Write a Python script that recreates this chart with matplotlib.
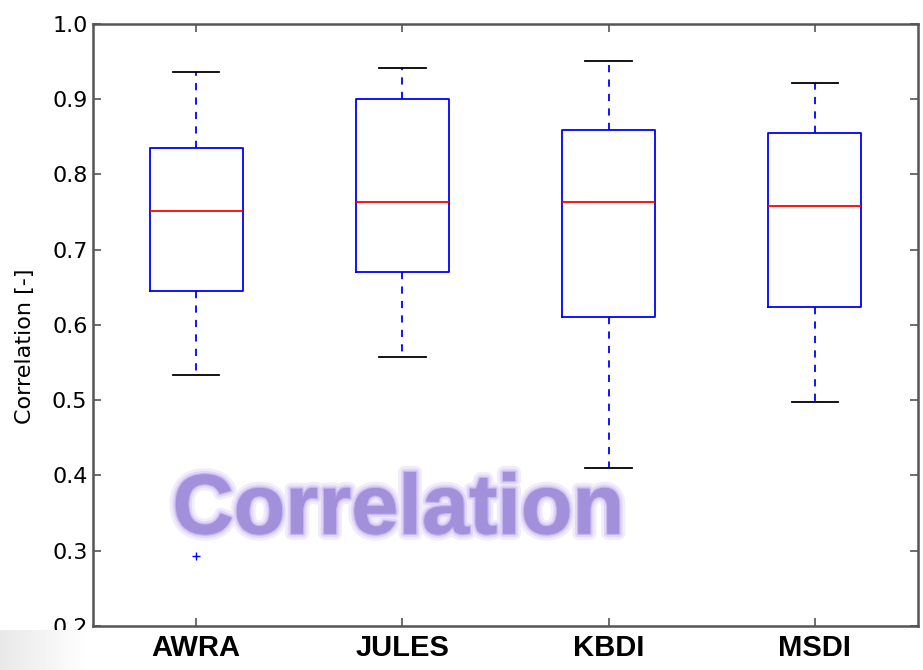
import numpy as np
import matplotlib
matplotlib.use("Agg")
import matplotlib.pyplot as plt
import matplotlib.patheffects as pe

models = ["AWRA", "JULES", "KBDI", "MSDI"]
whislo = [0.534, 0.557, 0.410, 0.498]
q1 = [0.645, 0.670, 0.611, 0.624]
med = [0.751, 0.763, 0.763, 0.758]
q3 = [0.835, 0.900, 0.859, 0.855]
whishi = [0.936, 0.941, 0.951, 0.921]
fliers = [[0.293], [], [], []]

stats = []
for i, name in enumerate(models):
    stats.append(dict(label=name, whislo=whislo[i], q1=q1[i], med=med[i],
                      q3=q3[i], whishi=whishi[i], fliers=fliers[i]))

fig = plt.figure(figsize=(9.23, 6.70), dpi=100)
ax = fig.add_axes([0.1008, 0.0657, 0.8938, 0.8985])

ax.bxp(stats, positions=[1, 2, 3, 4], widths=0.45,
       boxprops=dict(color="blue", lw=1.3),
       medianprops=dict(color="red", lw=1.3),
       whiskerprops=dict(color="blue", lw=1.3, ls=(0, (4, 4))),
       capprops=dict(color="black", lw=1.3),
       flierprops=dict(marker="+", markeredgecolor="blue", markersize=6,
                       markeredgewidth=1.0, linestyle="none"))

ax.set_xlim(0.5, 4.5)
ax.set_ylim(0.2, 1.0)
ax.set_yticks(np.arange(0.2, 1.01, 0.1))
ax.set_yticklabels([f"{v:.1f}" for v in np.arange(0.2, 1.01, 0.1)], fontsize=16)
ax.set_xticks([1, 2, 3, 4])
ax.set_xticklabels(models, fontsize=21, fontweight="bold", family="Liberation Sans")
ax.tick_params(direction="in", top=True, right=True, length=6, width=1.2,
               color="#555555")
ax.tick_params(axis="y", pad=4)
ax.tick_params(axis="x", pad=6)
for s in ax.spines.values():
    s.set_color("#555555")
    s.set_linewidth(1.8)
ax.set_ylabel("Correlation [-]", fontsize=16)
ax.yaxis.set_label_coords(-0.07, 0.465)

ax.text(0.37, 0.19, "Correlation", transform=ax.transAxes, ha="center",
        va="center", fontsize=61, fontweight="bold", family="Liberation Sans",
        color="#a390da",
        path_effects=[pe.withStroke(linewidth=9, foreground="#f1ecfc"),
                      pe.withStroke(linewidth=5, foreground="#e0d6f8"),
                      pe.withStroke(linewidth=2, foreground="#c4b3ef"),
                      pe.Normal()])

# faint grey gradient in the lower left corner
grad = np.linspace(0.91, 1.0, 90)[None, :].repeat(40, axis=0)
gax = fig.add_axes([0, 0, 90 / 923, 40 / 670])
gax.imshow(grad, cmap="gray", vmin=0, vmax=1, aspect="auto")
gax.axis("off")

fig.savefig("out.png", dpi=100)
